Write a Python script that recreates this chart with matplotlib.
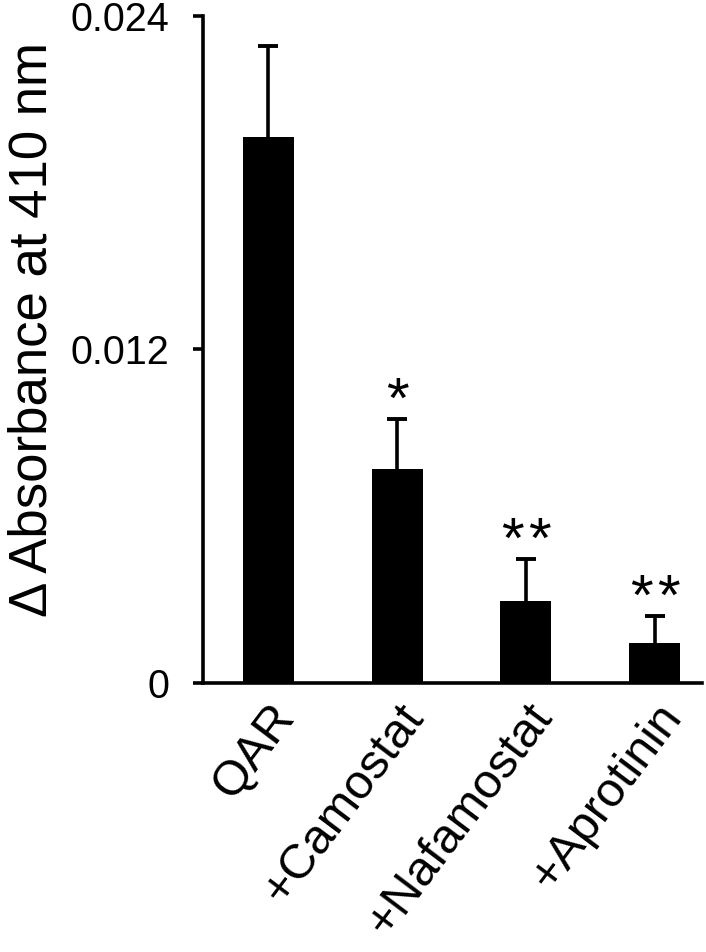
import numpy as np
import matplotlib
matplotlib.use('Agg')
import matplotlib.pyplot as plt

plt.rcParams['font.family'] = ['Liberation Sans', 'DejaVu Sans']

# values
groups = ['QAR', '+Camostat', '+Nafamostat', '+Aprotinin']
means  = [0.01965, 0.0077, 0.00295, 0.00144]
errs   = [0.00327, 0.0018, 0.0015, 0.00097]
stars  = ['', '*', '**', '**']
yticks = [0, 0.012, 0.024]
ytick_labels = ['0', '0.012', '0.024']

fig = plt.figure(figsize=(7.06, 9.52), dpi=100)
ax = fig.add_axes([0.2875, 0.2826, 0.7068, 0.7006])

x = np.arange(len(groups))
ax.bar(x, means, width=0.395, color='k', zorder=2)
eb = ax.errorbar(x, means, yerr=[np.zeros(len(errs)), errs], fmt='none',
                 ecolor='k', elinewidth=2.6, capsize=7, capthick=2.8, zorder=1)
# only the upper caps
for cap in eb[1]:
    if np.allclose(cap.get_ydata(), means):
        cap.set_visible(False)

# significance stars, one glyph at a time so the spacing matches
for xi, m, e, s in zip(x, means, errs, stars):
    n = len(s)
    for k, ch in enumerate(s):
        dx = (k - (n - 1) / 2) * 19.5
        ax.annotate(ch, xy=(xi, m + e), xytext=(dx, 1), textcoords='offset points',
                    ha='center', va='baseline', fontsize=42)

ax.set_xlim(-0.508, 3.368)
ax.set_ylim(0, 0.024)
ax.set_yticks(yticks)
ax.set_yticklabels(ytick_labels, fontsize=28.5)
ax.tick_params(axis='y', direction='out', length=7, width=2.6, pad=17)
ax.set_xticks(x)
ax.set_xticklabels(groups, fontsize=35, rotation=53, ha='right', va='top',
                   rotation_mode='anchor')
ax.tick_params(axis='x', length=0, pad=9)

for side in ['top', 'right']:
    ax.spines[side].set_visible(False)
for side in ['left', 'bottom']:
    ax.spines[side].set_linewidth(2.6)

ax.set_ylabel('\u0394 Absorbance at 410 nm', fontsize=38, labelpad=10, y=0.53)

plt.savefig('out.png', dpi=100)
